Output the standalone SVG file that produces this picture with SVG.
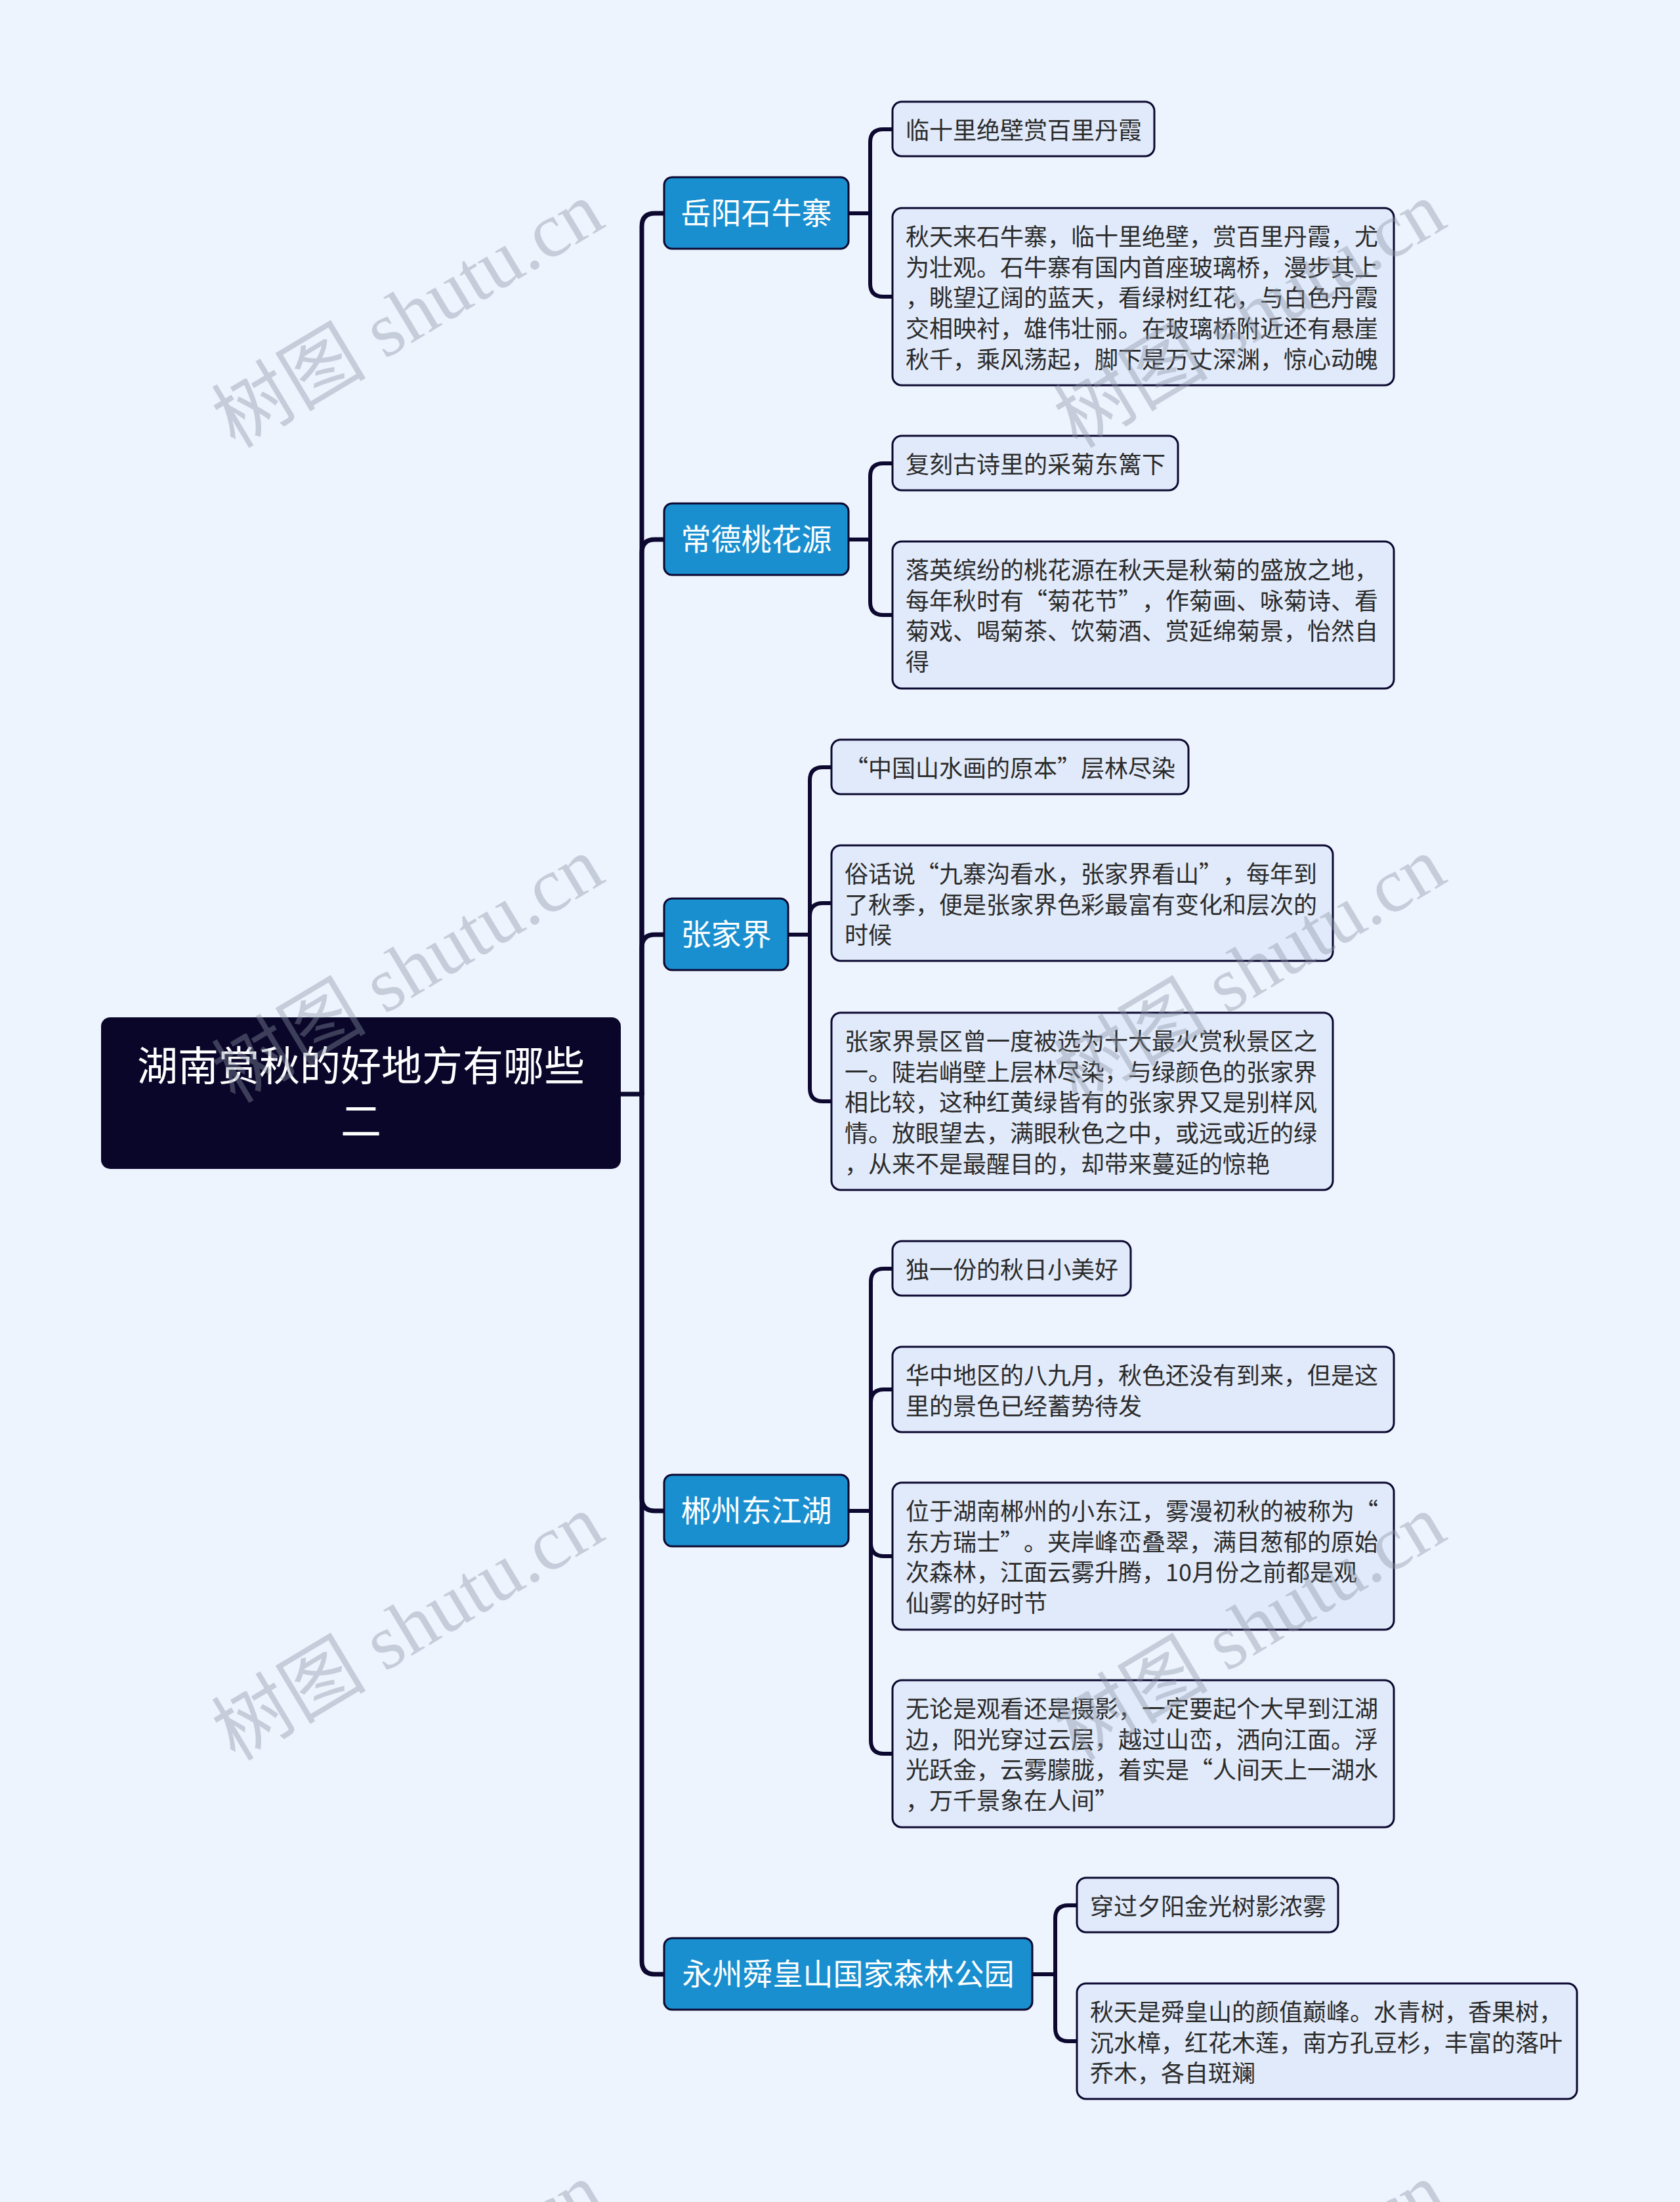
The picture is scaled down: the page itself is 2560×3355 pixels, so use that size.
<svg xmlns="http://www.w3.org/2000/svg" width="2560" height="3355" viewBox="0 0 2560 3355">
<defs>
<style>
.bg{fill:#eef4fe}
.root{fill:#0a0629}
.l1{fill:#1a8fd0;stroke:#0c0830;stroke-width:3}
.l2{fill:#e1eafa;stroke:#0c0830;stroke-width:3}
.t0{font-family:"Noto Sans CJK SC","Noto Sans",sans-serif;font-size:62px;fill:#ffffff;text-anchor:middle}
.t1{font-family:"Noto Sans CJK SC","Noto Sans",sans-serif;font-size:46px;fill:#ffffff;text-anchor:middle}
.t2{font-family:"Noto Sans CJK SC","Noto Sans",sans-serif;font-size:36px;fill:#2b2b2b}
.c{fill:none;stroke:#0c0830;stroke-width:7;stroke-linecap:round;stroke-linejoin:round}
.c2{fill:none;stroke:#0c0830;stroke-width:6;stroke-linecap:round;stroke-linejoin:round}
.wm{font-family:"Liberation Serif","Noto Sans CJK SC",serif;font-size:118px;fill:#8a93a6;fill-opacity:0.4;text-anchor:middle}
</style>
</defs>
<rect class="bg" x="0" y="0" width="2560" height="3355"/>

<g id="connectors">
<path class="c" d="M946,1667 H978"/>
<path class="c" d="M978,1667 V345 Q978,325 998,325 H1012"/>
<path class="c" d="M978,1667 V842 Q978,822 998,822 H1012"/>
<path class="c" d="M978,1667 V1444 Q978,1424 998,1424 H1012"/>
<path class="c" d="M978,1667 V2282 Q978,2302 998,2302 H1012"/>
<path class="c" d="M978,1667 V2988 Q978,3008 998,3008 H1012"/>

<path class="c2" d="M1293,325 H1326 V217 Q1326,197 1346,197 H1360"/>
<path class="c2" d="M1293,325 H1326 V432 Q1326,452 1346,452 H1360"/>

<path class="c2" d="M1293,822 H1326 V726 Q1326,706 1346,706 H1360"/>
<path class="c2" d="M1293,822 H1326 V917 Q1326,937 1346,937 H1360"/>

<path class="c2" d="M1201,1424 H1234 V1189 Q1234,1169 1254,1169 H1267"/>
<path class="c2" d="M1201,1424 H1234 V1396 Q1234,1376 1254,1376 H1267"/>
<path class="c2" d="M1201,1424 H1234 V1658 Q1234,1678 1254,1678 H1267"/>

<path class="c2" d="M1293,2302 H1327 V1953 Q1327,1933 1347,1933 H1360"/>
<path class="c2" d="M1293,2302 H1327 V2137 Q1327,2117 1347,2117 H1360"/>
<path class="c2" d="M1293,2302 H1327 V2351 Q1327,2371 1347,2371 H1360"/>
<path class="c2" d="M1293,2302 H1327 V2652 Q1327,2672 1347,2672 H1360"/>

<path class="c2" d="M1573,3008 H1608 V2923 Q1608,2903 1628,2903 H1641"/>
<path class="c2" d="M1573,3008 H1608 V3090 Q1608,3110 1628,3110 H1641"/>
</g>

<g id="root">
<rect class="root" x="154" y="1550" width="792" height="231" rx="14"/>
<text class="t0" x="550" y="1647">湖南赏秋的好地方有哪些</text>
<text class="t0" x="550" y="1731">二</text>
</g>

<g id="n1">
<rect class="l1" x="1012" y="270" width="281" height="109" rx="12"/>
<text class="t1" x="1152.5" y="341">岳阳石牛寨</text>
</g>
<g id="n1a">
<rect class="l2" x="1360" y="155" width="399" height="83" rx="14"/>
<text class="t2" x="1380" y="212">临十里绝壁赏百里丹霞</text>
</g>
<g id="n1b">
<rect class="l2" x="1360" y="317" width="764" height="270" rx="14"/>
<text class="t2" x="1380" y="374">秋天来石牛寨，临十里绝壁，赏百里丹霞，尤</text>
<text class="t2" x="1380" y="420.7">为壮观。石牛寨有国内首座玻璃桥，漫步其上</text>
<text class="t2" x="1380" y="467.4">，眺望辽阔的蓝天，看绿树红花，与白色丹霞</text>
<text class="t2" x="1380" y="514.1">交相映衬，雄伟壮丽。在玻璃桥附近还有悬崖</text>
<text class="t2" x="1380" y="560.8">秋千，乘风荡起，脚下是万丈深渊，惊心动魄</text>
</g>

<g id="n2">
<rect class="l1" x="1012" y="767" width="281" height="109" rx="12"/>
<text class="t1" x="1152.5" y="838">常德桃花源</text>
</g>
<g id="n2a">
<rect class="l2" x="1360" y="664" width="435" height="83" rx="14"/>
<text class="t2" x="1380" y="721">复刻古诗里的采菊东篱下</text>
</g>
<g id="n2b">
<rect class="l2" x="1360" y="825" width="764" height="224" rx="14"/>
<text class="t2" x="1380" y="882">落英缤纷的桃花源在秋天是秋菊的盛放之地，</text>
<text class="t2" x="1380" y="928.7">每年秋时有“菊花节”<tspan x="1740">，作菊画、咏菊诗、看</tspan></text>
<text class="t2" x="1380" y="975.4">菊戏、喝菊茶、饮菊酒、赏延绵菊景，怡然自</text>
<text class="t2" x="1380" y="1022.1">得</text>
</g>

<g id="n3">
<rect class="l1" x="1012" y="1369" width="189" height="109" rx="12"/>
<text class="t1" x="1106.5" y="1440">张家界</text>
</g>
<g id="n3a">
<rect class="l2" x="1267" y="1127" width="544" height="83" rx="14"/>
<text class="t2" x="1287" y="1184">“中国山水画的原本”层林尽染</text>
</g>
<g id="n3b">
<rect class="l2" x="1267" y="1288" width="764" height="176" rx="14"/>
<text class="t2" x="1287" y="1345">俗话说“九寨沟看水，张家界看山”<tspan x="1863">，每年到</tspan></text>
<text class="t2" x="1287" y="1391.7">了秋季，便是张家界色彩最富有变化和层次的</text>
<text class="t2" x="1287" y="1438.4">时候</text>
</g>
<g id="n3c">
<rect class="l2" x="1267" y="1543" width="764" height="270" rx="14"/>
<text class="t2" x="1287" y="1600">张家界景区曾一度被选为十大最火赏秋景区之</text>
<text class="t2" x="1287" y="1646.7">一。陡岩峭壁上层林尽染，与绿颜色的张家界</text>
<text class="t2" x="1287" y="1693.4">相比较，这种红黄绿皆有的张家界又是别样风</text>
<text class="t2" x="1287" y="1740.1">情。放眼望去，满眼秋色之中，或远或近的绿</text>
<text class="t2" x="1287" y="1786.8">，从来不是最醒目的，却带来蔓延的惊艳</text>
</g>

<g id="n4">
<rect class="l1" x="1012" y="2247" width="281" height="109" rx="12"/>
<text class="t1" x="1152.5" y="2318">郴州东江湖</text>
</g>
<g id="n4a">
<rect class="l2" x="1360" y="1891" width="363" height="83" rx="14"/>
<text class="t2" x="1380" y="1948">独一份的秋日小美好</text>
</g>
<g id="n4b">
<rect class="l2" x="1360" y="2052" width="764" height="130" rx="14"/>
<text class="t2" x="1380" y="2109">华中地区的八九月，秋色还没有到来，但是这</text>
<text class="t2" x="1380" y="2155.7">里的景色已经蓄势待发</text>
</g>
<g id="n4c">
<rect class="l2" x="1360" y="2259" width="764" height="224" rx="14"/>
<text class="t2" x="1380" y="2316">位于湖南郴州的小东江，雾漫初秋的被称为“</text>
<text class="t2" x="1380" y="2362.7">东方瑞士”<tspan x="1560">。夹岸峰峦叠翠，满目葱郁的原始</tspan></text>
<text class="t2" x="1380" y="2409.4">次森林，江面云雾升腾，10月份之前都是观</text>
<text class="t2" x="1380" y="2456.1">仙雾的好时节</text>
</g>
<g id="n4d">
<rect class="l2" x="1360" y="2560" width="764" height="224" rx="14"/>
<text class="t2" x="1380" y="2617">无论是观看还是摄影，一定要起个大早到江湖</text>
<text class="t2" x="1380" y="2663.7">边，阳光穿过云层，越过山峦，洒向江面。浮</text>
<text class="t2" x="1380" y="2710.4">光跃金，云雾朦胧，着实是“人间天上一湖水</text>
<text class="t2" x="1380" y="2757.1">，万千景象在人间”</text>
</g>

<g id="n5">
<rect class="l1" x="1012" y="2953" width="561" height="109" rx="12"/>
<text class="t1" x="1292.5" y="3024">永州舜皇山国家森林公园</text>
</g>
<g id="n5a">
<rect class="l2" x="1641" y="2861" width="398" height="83" rx="14"/>
<text class="t2" x="1661" y="2918">穿过夕阳金光树影浓雾</text>
</g>
<g id="n5b">
<rect class="l2" x="1641" y="3022" width="762" height="176" rx="14"/>
<text class="t2" x="1661" y="3079">秋天是舜皇山的颜值巅峰。水青树，香果树，</text>
<text class="t2" x="1661" y="3125.7">沉水樟，红花木莲，南方孔豆杉，丰富的落叶</text>
<text class="t2" x="1661" y="3172.4">乔木，各自斑斓</text>
</g>

<g id="watermarks">
<text class="wm" transform="translate(642,514) rotate(-31)">树图 shutu.cn</text>
<text class="wm" transform="translate(1925,514) rotate(-31)">树图 shutu.cn</text>
<text class="wm" transform="translate(642,1512) rotate(-31)">树图 shutu.cn</text>
<text class="wm" transform="translate(1925,1512) rotate(-31)">树图 shutu.cn</text>
<text class="wm" transform="translate(642,2514) rotate(-31)">树图 shutu.cn</text>
<text class="wm" transform="translate(1925,2514) rotate(-31)">树图 shutu.cn</text>
<text class="wm" transform="translate(642,3532) rotate(-31)">树图 shutu.cn</text>
<text class="wm" transform="translate(1925,3532) rotate(-31)">树图 shutu.cn</text>
</g>
</svg>
